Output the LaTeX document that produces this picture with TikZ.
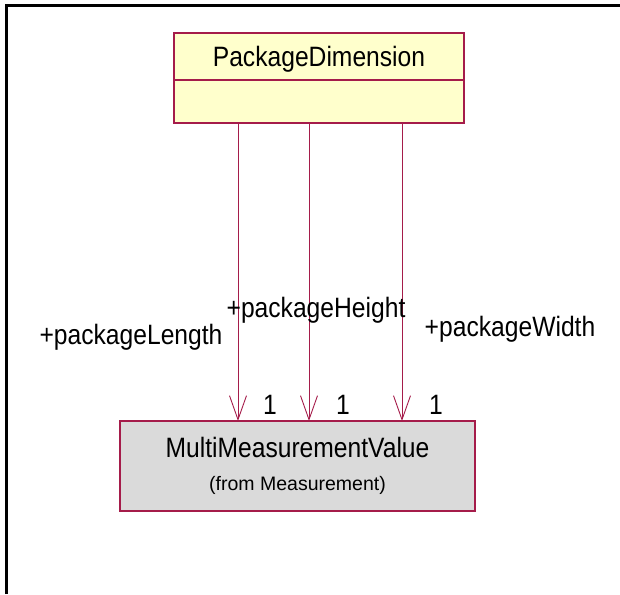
\documentclass[tikz,border=0pt]{standalone}
\usepackage{fontspec}
\setmainfont{Liberation Sans}
\newfontfamily\umlfont{Liberation Sans}[FakeStretch=0.88]
\usepackage{tikz}
\usetikzlibrary{arrows.meta,positioning}
\definecolor{umlborder}{RGB}{165,28,74}
\definecolor{classfill}{RGB}{255,255,204}
\definecolor{importfill}{RGB}{218,218,218}

\begin{document}
\begin{tikzpicture}[
    x=1pt, y=-1pt,
    compartment/.style={
        draw=umlborder,
        line width=1.5pt,
        minimum width=290pt,
        inner sep=0pt,
        outer sep=0pt,
        fill=classfill
    },
    namepart/.style={compartment, minimum height=47pt, text depth=0pt,
        font=\umlfont\fontsize{28}{30}\selectfont},
    attrpart/.style={compartment, minimum height=43pt},
    importbox/.style={
        draw=umlborder,
        line width=1.2pt,
        fill=importfill,
        minimum width=355pt,
        minimum height=90pt,
        align=center,
        inner sep=0pt,
        outer sep=0pt,
        font=\fontsize{19.5}{33}\selectfont
    },
    rolelabel/.style={anchor=base, font=\umlfont\fontsize{28}{30}\selectfont},
    assoc/.style={draw=umlborder, line width=0.9pt, -{Straight Barb[length=24pt, width=17pt]}}
]
\useasboundingbox (0,0) rectangle (620,594);
\draw[line width=3pt] (6,594) -- (6,6) -- (620,6);

\node[namepart] (dim) at (319,56.5) {PackageDimension};
\node[attrpart, below=0pt of dim] (attr) {};
\node[importbox] (mmv) at (297.5,466)
    {{\umlfont\fontsize{28}{33}\selectfont MultiMeasurementValue}\\(from Measurement)};

\coordinate (lenx) at (238,0);
\coordinate (heightx) at (309,0);
\coordinate (widthx) at (402,0);

\draw[assoc] (attr.south -| lenx) -- (mmv.north -| lenx);
\draw[assoc] (attr.south -| heightx) -- (mmv.north -| heightx);
\draw[assoc] (attr.south -| widthx) -- (mmv.north -| widthx);

\node[rolelabel] (lenrole) at (131,344) {+packageLength};
\node[rolelabel] (heightrole) at (316,317) {+packageHeight};
\node[rolelabel] (widthrole) at (510,336) {+packageWidth};
\node[rolelabel] (lenmult) at (270,414) {1};
\node[rolelabel] (heightmult) at (343,414) {1};
\node[rolelabel] (widthmult) at (436,414) {1};
\end{tikzpicture}
\end{document}
